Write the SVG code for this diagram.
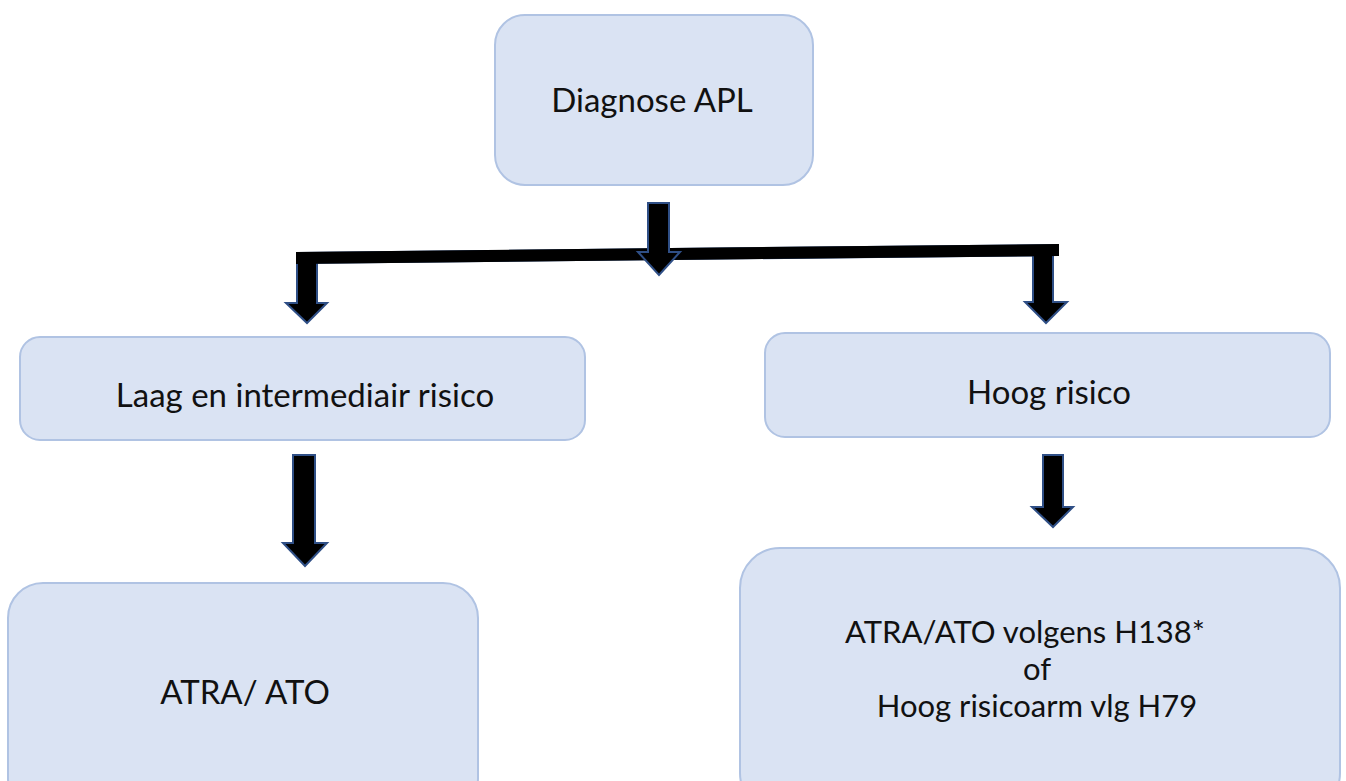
<svg xmlns="http://www.w3.org/2000/svg" width="1346" height="781" viewBox="0 0 1346 781">
<style>
.box{fill:#dae3f3;stroke:#b0c3e3;stroke-width:2}
.t{font-family:Lato,"Liberation Sans",sans-serif;font-size:33px;fill:#111;text-anchor:middle}
.t2{font-size:31px}
.arr{fill:#000;stroke:#2f4f86;stroke-width:2;stroke-linejoin:miter}
</style>
<rect width="1346" height="781" fill="#fff"/>
<g id="connectors">
<polygon class="arr" points="297,253 1058,245 1058,255 1053,255.1 1053,302 1067,302 1046,323 1025,302 1033,302 1033,255.3 317,262.8 317,303 327,303 307,323 286,303 297,303"/>
<polygon fill="#000" points="296,252 1059,244 1059,256 296,264"/>
<polygon class="arr" points="648,203 669,203 669,252 680,252 659,275 638,252 648,252"/>
<polygon class="arr" points="293,455 315,455 315,543 327,543 305,566 283,543 293,543"/>
<polygon class="arr" points="1043,455 1063,455 1063,507 1073,507 1053,527 1032,507 1043,507"/>
</g>
<g id="diagnose">
<rect class="box" x="495" y="15" width="318" height="170" rx="30"/>
<text class="t" x="652" y="112">Diagnose APL</text>
</g>
<g id="laag">
<rect class="box" x="20" y="337" width="565" height="103" rx="20"/>
<text class="t" x="305" y="407">Laag en intermediair risico</text>
</g>
<g id="hoog">
<rect class="box" x="765" y="333" width="565" height="104" rx="20"/>
<text class="t" x="1049" y="404">Hoog risico</text>
</g>
<g id="atra-ato">
<rect class="box" x="8" y="583" width="470" height="230" rx="35"/>
<text class="t" x="245" y="704">ATRA/ ATO</text>
</g>
<g id="atra-ato-h138">
<rect class="box" x="740" y="548" width="600" height="265" rx="40"/>
<text class="t t2" x="1025" y="643">ATRA/ATO volgens H138*</text>
<text class="t t2" x="1037" y="680">of</text>
<text class="t t2" x="1037" y="717">Hoog risicoarm vlg H79</text>
</g>
</svg>
